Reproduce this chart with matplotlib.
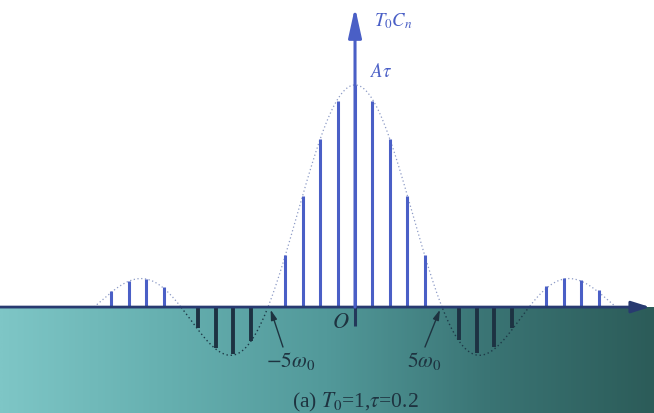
import numpy as np
import matplotlib
matplotlib.use("Agg")
import matplotlib.pyplot as plt
from matplotlib.colors import LinearSegmentedColormap

# spectrum lines, n = harmonic index (units of w0), heights in units of A*tau
T0 = 1
tau = 0.2
n_pos = [-14, -13, -12, -11, -4, -3, -2, -1, 0, 1, 2, 3, 4, 11, 12, 13, 14]
h_pos = [0.073, 0.118, 0.126, 0.089, 0.234, 0.50, 0.757, 0.93, 1.0,
         0.93, 0.757, 0.50, 0.234, 0.095, 0.13, 0.122, 0.077]
n_neg = [-9, -8, -7, -6, 6, 7, 8, 9]
h_neg = [-0.095, -0.185, -0.212, -0.153, -0.147, -0.207, -0.18, -0.095]

zero_marks = [-5, 5]
zero_labels = [r"$-5\omega_0$", r"$5\omega_0$"]

plt.rcParams["mathtext.fontset"] = "stix"
plt.rcParams["font.family"] = ["Liberation Serif", "DejaVu Serif"]

blue = "#4a5fc6"
dark = "#1d3242"

fig = plt.figure(figsize=(6.54, 4.14), dpi=100)
ax = fig.add_axes([0, 0, 1, 1])
ax.set_xlim(-20.4, 17.18)
ax.set_ylim(-0.477, 1.387)
ax.axis("off")

# teal background below the axis
cmap = LinearSegmentedColormap.from_list(
    "bg", ["#7ec6c6", "#66b0b0", "#52999a", "#3a7474", "#2c5c59"])
grad = np.linspace(0, 1, 300)[None, :]
ax.imshow(grad, extent=(-20.4, 17.18, -0.477, 0), aspect="auto",
          cmap=cmap, zorder=0)

# envelope
x = np.linspace(-15, 15, 600)
env = np.sinc(x * tau / T0)
ax.plot(x, np.where(env >= 0, env, np.nan), ls=(0, (1, 2)), lw=0.9,
        color="#8d9bc6", zorder=2)
ax.plot(x, np.where(env <= 0, env, np.nan), ls=(0, (1, 2)), lw=1.0,
        color="#1e3a48", zorder=2)

# spectral lines
ax.vlines(n_pos, 0, h_pos, color=blue, lw=2.2, zorder=3)
ax.vlines(n_neg, 0, h_neg, color=dark, lw=2.8, zorder=3)
ax.vlines([0], -0.086, 0, color="#23385a", lw=2.2, zorder=3)

# axes with arrows
ax.annotate("", xy=(16.95, 0), xytext=(-20.4, 0),
            arrowprops=dict(arrowstyle="-|>,head_length=0.7,head_width=0.22",
                            mutation_scale=16, lw=2.0, color="#283a70",
                            shrinkA=0, shrinkB=0), zorder=4)
ax.annotate("", xy=(0, 1.35), xytext=(0, 0),
            arrowprops=dict(arrowstyle="-|>,head_length=1.0,head_width=0.22",
                            mutation_scale=18, lw=2.2, color=blue,
                            shrinkA=0, shrinkB=0), zorder=4)

ax.text(1.1, 1.29, r"$T_0C_n$", color=blue, fontsize=13.5,
        ha="left", va="center")
ax.text(0.85, 1.065, r"$A\tau$", color=blue, fontsize=13.5,
        ha="left", va="center")
ax.text(-0.82, -0.07, r"$O$", color="#1e3340", fontsize=16,
        ha="center", va="center")

# zero crossing labels with pointer arrows
lab_x = [-3.68, 4.0]
tail_x = [-4.14, 4.02]
tip_x = [-4.85, 4.88]
for z, lab, lx, tx, px in zip(zero_marks, zero_labels, lab_x, tail_x, tip_x):
    ax.text(lx, -0.24, lab, color="#1e3340", fontsize=15.5,
            ha="center", va="center")
    ax.annotate("", xy=(px, -0.012), xytext=(tx, -0.18),
                arrowprops=dict(arrowstyle="-|>,head_length=0.5,head_width=0.15",
                                mutation_scale=12, lw=1.0, color="#1e3340",
                                shrinkA=0, shrinkB=0), zorder=4)

ax.text(0, -0.425, r"(a) $T_0$=1,$\tau$=0.2", color="#1e3340", fontsize=15.5,
        ha="center", va="center")

fig.savefig("out.png", dpi=100)
